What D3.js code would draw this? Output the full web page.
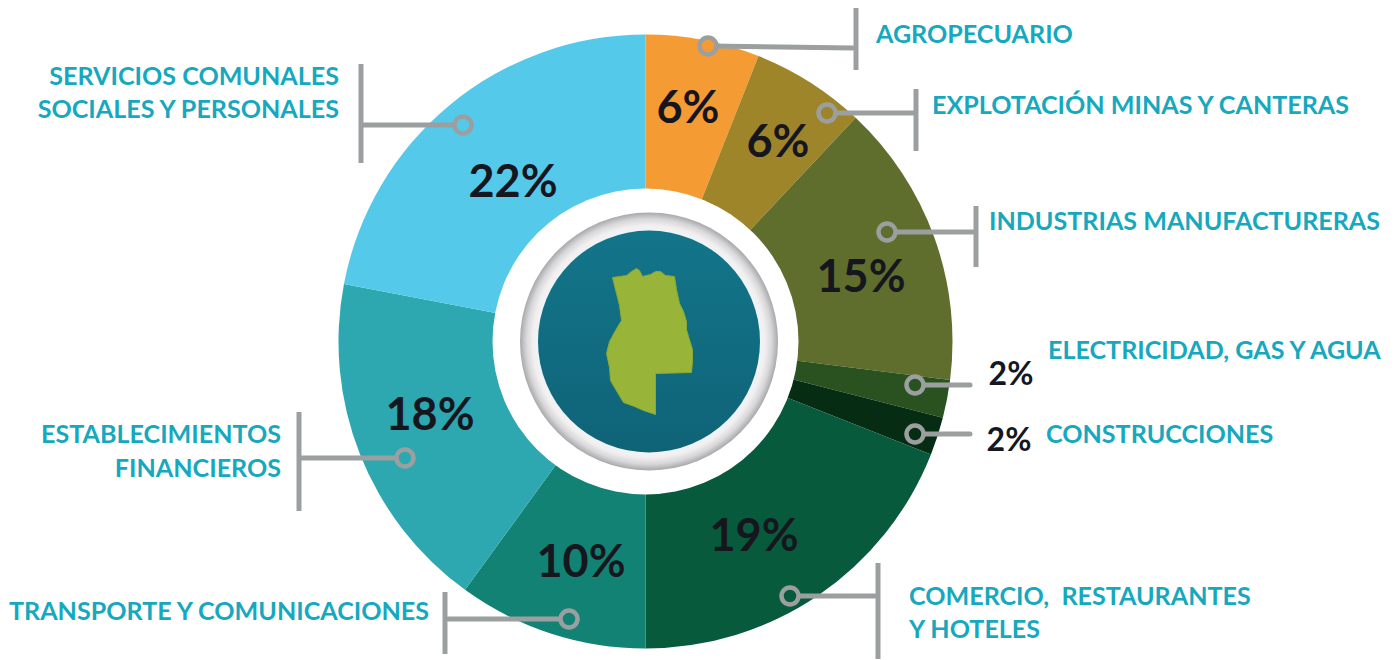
<!DOCTYPE html>
<html>
<head>
<meta charset="utf-8">
<script src="https://cdn.jsdelivr.net/npm/d3@7"></script>
<style>
  html, body { margin: 0; padding: 0; background: #fff; }
  svg { display: block; }
  text { font-family: Lato, "Open Sans", sans-serif; font-weight: 700; }
</style>
</head>
<body>
<div id="d3-container"></div>
<script>
// shares per sector, clockwise from 12 o'clock
const categories = ['AGROPECUARIO', 'EXPLOTACIÓN MINAS Y CANTERAS', 'INDUSTRIAS MANUFACTURERAS',
  'ELECTRICIDAD, GAS Y AGUA', 'CONSTRUCCIONES', 'COMERCIO,  RESTAURANTES Y HOTELES',
  'TRANSPORTE Y COMUNICACIONES', 'ESTABLECIMIENTOS FINANCIEROS', 'SERVICIOS COMUNALES SOCIALES Y PERSONALES'];
const values = [6, 6, 15, 2, 2, 19, 10, 18, 22];
const colors = ['#f59b33', '#9f852a', '#5f6d2d', '#2a5220', '#062c13', '#085a3c', '#128274', '#2da7b0', '#55c9ea'];

const width = 1400, height = 660;
const cx = 645.5, cy = 341.5, radius = 307;

// annotation layout, same order as categories
// dot: ring on the slice, end: where the leader stops, bar: [x, y1, y2] tick at the end
const callouts = [
  { dot: [708, 46], end: [853, 48], bar: [856, 8, 70], pct: [688, 106.5, 45], label: [[876, 43, 'AGROPECUARIO']], anchor: 'start' },
  { dot: [827, 113], end: [913, 113], bar: [916, 89, 151], pct: [778, 141, 45], label: [[932, 114, 'EXPLOTACIÓN MINAS Y CANTERAS']], anchor: 'start' },
  { dot: [887, 232], end: [973, 232], bar: [976, 206, 267], pct: [861, 276, 45], label: [[989, 230, 'INDUSTRIAS MANUFACTURERAS']], anchor: 'start' },
  { dot: [915, 385], end: [970, 385], bar: null, pct: [1011, 373.5, 32], label: [[1048, 359, 'ELECTRICIDAD, GAS Y AGUA']], anchor: 'start' },
  { dot: [915, 434], end: [970, 434], bar: null, pct: [1009, 439.5, 32], label: [[1046, 443, 'CONSTRUCCIONES']], anchor: 'start' },
  { dot: [790, 596], end: [875, 596], bar: [878, 563, 659], pct: [754, 535, 45], label: [[909, 605, 'COMERCIO,  RESTAURANTES'], [909, 638, 'Y HOTELES']], anchor: 'start' },
  { dot: [569, 619], end: [448, 619], bar: [445, 592, 654], pct: [581, 561, 45], label: [[429, 620, 'TRANSPORTE Y COMUNICACIONES']], anchor: 'end' },
  { dot: [405, 458], end: [302, 458], bar: [299, 412, 511], pct: [430, 414, 45], label: [[281, 443, 'ESTABLECIMIENTOS'], [281, 477, 'FINANCIEROS']], anchor: 'end' },
  { dot: [463, 125], end: [364, 125], bar: [361, 64, 163], pct: [513, 181, 45], label: [[339, 85, 'SERVICIOS COMUNALES'], [339, 118, 'SOCIALES Y PERSONALES']], anchor: 'end' },
];

// outline of the province in the badge, relative to the pie centre
const mapShape = [[-33, -64], [-26, -65], [-19, -66], [-14, -70], [-9, -73], [-6, -71], [-3, -65], [5, -67],
  [10, -70], [15, -70], [20, -66], [29, -65], [31, -52], [34, -38], [38, -30], [41, -20], [41, -12], [43, -5],
  [47, 8], [47, 20], [46, 31], [10, 32], [10, 73], [-2, 69], [-11, 65], [-22, 61], [-28, 51], [-35, 39],
  [-36, 26], [-39, 12], [-36, 0], [-30, -11], [-24, -21], [-26, -36], [-29, -48]];

const svg = d3.select('#d3-container').append('svg')
  .attr('width', width).attr('height', height)
  .attr('viewBox', [0, 0, width, height].join(' '));

const defs = svg.append('defs');
const ringGrad = defs.append('radialGradient').attr('id', 'ring');
ringGrad.append('stop').attr('offset', '0.85').attr('stop-color', '#eef5f8');
ringGrad.append('stop').attr('offset', '0.9').attr('stop-color', '#f2eff0');
ringGrad.append('stop').attr('offset', '0.95').attr('stop-color', '#d8d7d9');
ringGrad.append('stop').attr('offset', '1').attr('stop-color', '#a8a8ab');
const discGrad = defs.append('linearGradient').attr('id', 'disc').attr('x1', 0).attr('x2', 0).attr('y1', 0).attr('y2', 1);
discGrad.append('stop').attr('offset', '0').attr('stop-color', '#13758a');
discGrad.append('stop').attr('offset', '1').attr('stop-color', '#0f6377');

const pie = d3.pie().sort(null).value(d => d);
const arc = d3.arc().innerRadius(0).outerRadius(radius);

const g = svg.append('g').attr('transform', 'translate(' + cx + ',' + cy + ')');

g.selectAll('.slice')
  .data(pie(values))
  .enter()
  .append('path')
  .attr('class', 'slice')
  .attr('d', arc)
  .attr('fill', (d, i) => colors[i]);

// centre badge, sits a little right of the white hole
g.append('circle').attr('r', 153).attr('fill', '#fff');
g.append('circle').attr('cx', 3.5).attr('r', 129).attr('fill', 'url(#ring)');
g.append('circle').attr('cx', 3.5).attr('r', 111).attr('fill', 'url(#disc)');
g.append('path')
  .attr('d', d3.line()(mapShape) + 'Z')
  .attr('fill', '#98b53a')
  .attr('stroke', '#8aa833')
  .attr('stroke-width', 1);

// leaders
const gray = '#9c9fa0';
const leaders = svg.append('g').attr('fill', 'none').attr('stroke', gray);
leaders.selectAll('.leader')
  .data(callouts)
  .enter()
  .append('line')
  .attr('class', 'leader')
  .attr('x1', d => d.dot[0]).attr('y1', d => d.dot[1])
  .attr('x2', d => d.end[0]).attr('y2', d => d.end[1])
  .attr('stroke-width', 5)
  .attr('stroke-linecap', 'round');
leaders.selectAll('.tick-bar')
  .data(callouts.filter(d => d.bar))
  .enter()
  .append('line')
  .attr('class', 'tick-bar')
  .attr('x1', d => d.bar[0]).attr('x2', d => d.bar[0])
  .attr('y1', d => d.bar[1]).attr('y2', d => d.bar[2])
  .attr('stroke-width', 5);
// the leader stops at the ring, so the ring gets its slice colour inside
svg.selectAll('.dot')
  .data(callouts)
  .enter()
  .append('circle')
  .attr('class', 'dot')
  .attr('cx', d => d.dot[0]).attr('cy', d => d.dot[1])
  .attr('r', 8.5)
  .attr('fill', (d, i) => colors[i])
  .attr('stroke', gray)
  .attr('stroke-width', 4.5);

// percentages
svg.selectAll('.pct')
  .data(callouts)
  .enter()
  .append('text')
  .attr('class', 'pct')
  .attr('x', d => d.pct[0]).attr('y', d => d.pct[1])
  .attr('dy', '0.36em')
  .attr('text-anchor', 'middle')
  .attr('font-size', d => d.pct[2])
  .attr('fill', '#16161e')
  .text((d, i) => values[i] + '%');

// category labels
callouts.forEach(function (c) {
  c.label.forEach(function (l) {
    svg.append('text')
      .attr('x', l[0]).attr('y', l[1])
      .attr('text-anchor', c.anchor)
      .attr('font-size', 25.1)
      .attr('fill', '#16a8be')
      .style('white-space', 'pre')
      .text(l[2]);
  });
});
</script>
</body>
</html>
